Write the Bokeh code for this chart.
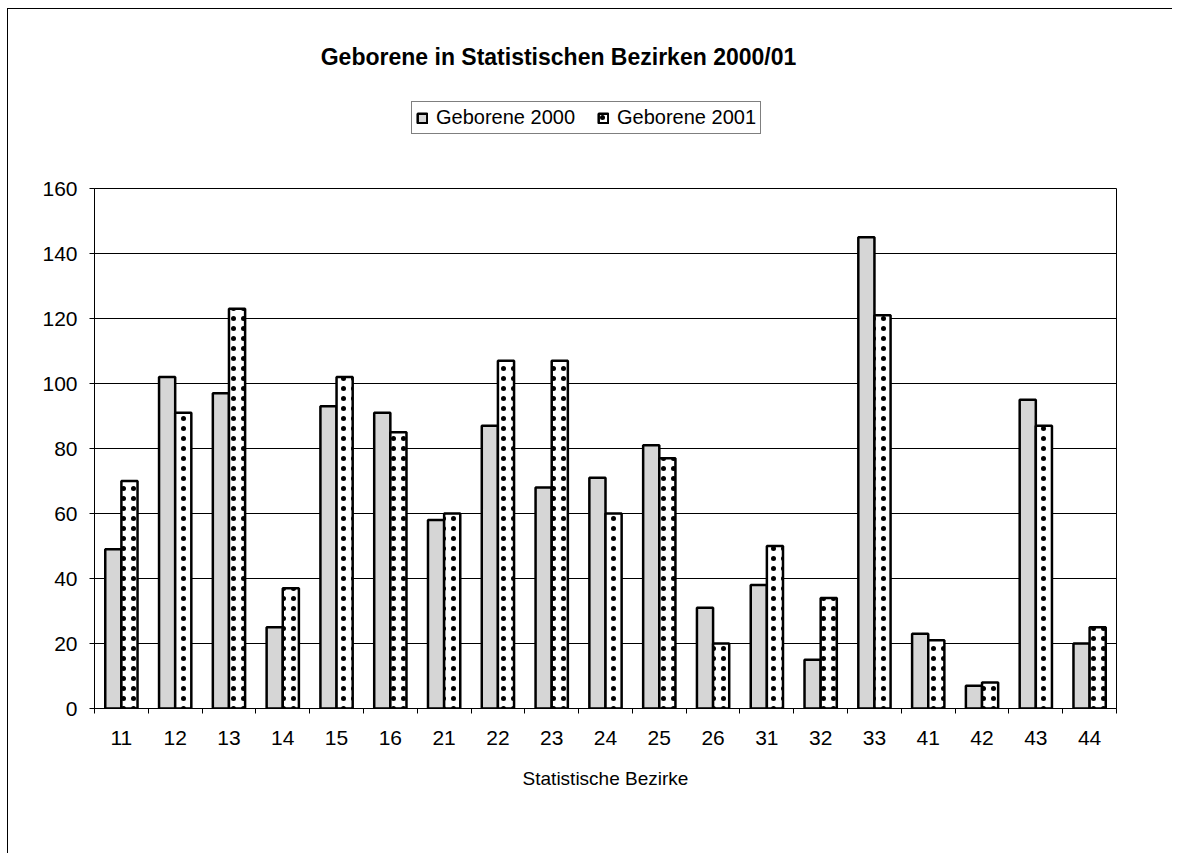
from bokeh.plotting import figure
from bokeh.layouts import column
from bokeh.models import Range1d, FixedTicker, Legend, LegendItem, ColumnDataSource, Label
from bokeh.embed import file_html
from bokeh.resources import INLINE

districts = ["11", "12", "13", "14", "15", "16", "21", "22", "23", "24",
             "25", "26", "31", "32", "33", "41", "42", "43", "44"]
geb_2000 = [49, 102, 97, 25, 93, 91, 58, 87, 68, 71, 81, 31, 38, 15, 145, 23, 7, 95, 20]
geb_2001 = [70, 91, 123, 37, 102, 85, 60, 107, 107, 60, 77, 20, 50, 34, 121, 21, 8, 87, 25]
series_names = ["Geborene 2000", "Geborene 2001"]
y_ticks = [0, 20, 40, 60, 80, 100, 120, 140, 160]
chart_title = "Geborene in Statistischen Bezirken 2000/01"
x_title = "Statistische Bezirke"

FONT = "Liberation Sans"
W = 1164
TOP_H = 164
MAIN_H = 680
BL, BR = 86, 56
FRAME_W = W - BL - BR
n = len(districts)
centers = [i + 0.5 for i in range(n)]
bounds = list(range(n + 1))

style0 = dict(fill_color="#d6d6d6", line_color="black", line_width=2.5)
style1 = dict(fill_color="white", hatch_pattern="dot", hatch_color="black",
              hatch_scale=10, hatch_weight=1.5, line_color="black", line_width=2.5)

src = ColumnDataSource(dict(
    x0=[c - 0.15 for c in centers],
    x1=[c + 0.15 for c in centers],
    v0=geb_2000, v1=geb_2001, d=districts))

# ---------- header (title + legend); frame aligned with the chart frame ----------
top = figure(width=W, height=TOP_H, output_backend="svg", toolbar_location=None,
             x_range=Range1d(0, FRAME_W), y_range=Range1d(0, TOP_H),
             x_axis_type=None, y_axis_type=None,
             min_border_left=BL, min_border_right=BR, min_border_top=0, min_border_bottom=0,
             background_fill_color="white", border_fill_color="white")
top.outline_line_color = None
l0 = top.vbar(x="x0", top="v0", width=0.3, source=src, visible=False, **style0)
l1 = top.vbar(x="x1", top="v1", width=0.3, source=src, visible=False, **style1)

top.add_layout(Label(x=464, y=117, text=chart_title, text_font=FONT,
                     text_font_size="23px", text_font_style="bold", text_color="black",
                     text_align="center", text_baseline="middle"))

legend = Legend(items=[LegendItem(label=series_names[0], renderers=[l0]),
                       LegendItem(label=series_names[1], renderers=[l1])],
                orientation="horizontal", location=(317, 39),
                label_text_font=FONT, label_text_font_size="20px",
                label_text_color="black", glyph_width=12, glyph_height=12,
                border_line_color="black", border_line_width=1,
                padding=4, spacing=22, label_standoff=8, margin=0,
                background_fill_alpha=1, inactive_fill_alpha=0)
top.add_layout(legend, "center")

# ---------- main chart ----------
p = figure(width=W, height=MAIN_H, output_backend="svg", toolbar_location=None,
           x_range=Range1d(0, n), y_range=Range1d(0, 160),
           min_border_left=BL, min_border_right=BR, min_border_top=15,
           min_border_bottom=145, background_fill_color="white",
           border_fill_color="white")

p.vbar(x="x0", top="v0", width=0.3, source=src, **style0)
p.vbar(x="x1", top="v1", width=0.3, source=src, **style1)

p.outline_line_color = "black"
p.outline_line_width = 1
p.xgrid.visible = False
p.ygrid.ticker = FixedTicker(ticks=y_ticks)
p.ygrid.grid_line_color = "black"
p.ygrid.grid_line_width = 1

xa = p.xaxis[0]
xa.ticker = FixedTicker(ticks=centers, minor_ticks=bounds)
xa.major_label_overrides = {c: d for c, d in zip(centers, districts)}
xa.major_tick_line_color = None
xa.major_tick_out = 0
xa.major_tick_in = 0
xa.minor_tick_out = 5
xa.minor_tick_in = 0
xa.minor_tick_line_color = "black"
xa.axis_line_color = "black"
xa.major_label_standoff = 17
xa.major_label_text_font = FONT
xa.major_label_text_font_size = "21px"
xa.major_label_text_color = "black"
xa.axis_label = x_title
xa.axis_label_text_font = FONT
xa.axis_label_text_font_size = "19px"
xa.axis_label_text_font_style = "normal"
xa.axis_label_text_color = "black"
xa.axis_label_standoff = 20

ya = p.yaxis[0]
ya.ticker = FixedTicker(ticks=y_ticks)
ya.minor_tick_line_color = None
ya.major_tick_out = 5
ya.major_tick_in = 0
ya.major_tick_line_color = "black"
ya.axis_line_color = "black"
ya.major_label_standoff = 12
ya.major_label_text_font = FONT
ya.major_label_text_font_size = "21px"
ya.major_label_text_color = "black"

layout = column(top, p, spacing=0)
layout.styles = {"border-left": "1px solid black", "border-top": "1px solid black",
                 "margin-left": "7px", "margin-top": "8px"}

open("out.html", "w").write(file_html(layout, INLINE))
